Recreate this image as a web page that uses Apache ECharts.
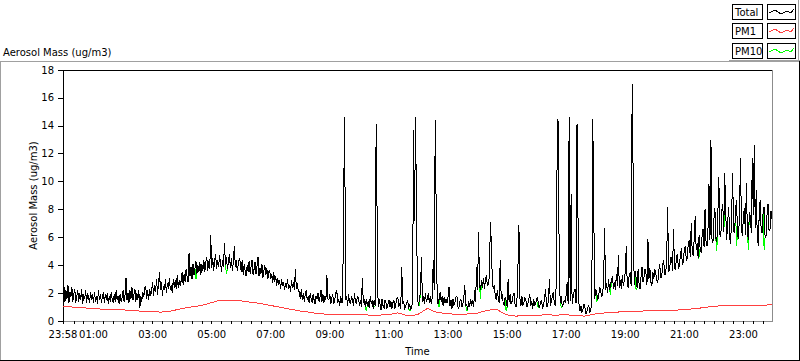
<!DOCTYPE html>
<html><head><meta charset="utf-8">
<script src="https://cdn.jsdelivr.net/npm/echarts@6/dist/echarts.min.js"></script>
<style>html,body{margin:0;padding:0;background:#fff}#c{width:800px;height:361px}#c svg path{shape-rendering:crispEdges}</style>
</head><body><div id="c"></div>
<script>
// ---------- data ----------
const chartTitle = 'Aerosol Mass (ug/m3)';
const yAxisName = 'Aerosol Mass (ug/m3)';
const xAxisName = 'Time';
const seriesNames = ['Total', 'PM1', 'PM10'];
const xTickLabels = ['23:58','01:00','03:00','05:00','07:00','09:00','11:00','13:00','15:00','17:00','19:00','21:00','23:00','23:58'];
const yMin = 0, yMax = 18, yStep = 2;
const startMin = -2;        // 23:58 of the previous day, minutes from midnight
const endMin = 1438;        // 23:58
const totalStepMin = 2;     // sampling of Total / PM10 (one row = one hour)
const pm1StepMin = 20;      // sampling of PM1

const total = [
2.0,2.5,1.4,2.2,1.6,2.6,1.3,2.1,1.7,2.4,1.4,1.9,2.3,1.3,1.8,2.2,1.4,2.0,1.5,2.3,1.2,1.9,1.6,2.2,1.3,2.0,1.7,1.3,2.1,1.5,
1.9,1.3,2.1,1.4,1.8,1.2,2.2,1.5,1.9,1.3,1.7,2.1,1.3,1.9,1.5,2.0,1.2,1.8,1.4,2.1,1.5,1.3,1.9,1.4,2.2,1.5,1.8,1.2,1.9,1.4,
1.7,2.2,1.4,1.9,3.1,1.5,2.0,1.3,2.2,1.6,2.4,1.5,1.9,2.3,1.4,2.0,1.5,2.2,0.9,1.8,1.4,2.1,1.7,2.4,2.5,1.6,2.2,1.5,2.3,1.8,
2.2,2.8,1.8,2.6,2.1,3.0,1.9,2.7,3.5,2.2,2.8,1.8,2.5,2.2,3.0,2.0,2.7,2.3,3.1,2.2,2.6,2.0,3.0,2.4,2.9,2.3,3.3,2.4,2.9,2.5,
2.9,3.5,2.6,3.4,2.8,3.7,3.2,2.8,4.9,3.2,3.9,3.0,4.1,3.3,3.8,4.3,3.4,4.0,3.5,4.2,3.3,4.1,3.6,4.4,3.5,4.2,4.6,3.6,4.3,3.7,
6.2,3.8,4.5,3.6,4.3,4.8,3.7,4.4,3.9,4.7,4.2,3.5,4.4,3.9,5.6,4.0,4.6,3.7,4.3,4.8,3.8,4.5,3.6,4.2,5.4,3.9,4.4,3.6,4.1,4.5,
4.2,3.5,4.4,3.3,4.1,3.6,3.2,4.0,3.5,4.3,3.4,3.9,4.4,3.3,3.7,4.2,3.4,3.9,4.6,3.2,3.8,3.4,4.1,3.1,3.6,4.0,3.3,3.8,3.0,3.6,
3.6,3.0,3.4,2.7,3.5,2.8,3.2,2.5,3.1,2.6,2.9,2.3,3.0,2.5,2.8,2.2,2.7,2.4,3.0,2.3,2.6,2.1,2.9,2.4,2.8,2.2,3.7,2.3,2.7,2.1,
2.1,1.6,2.3,1.5,2.0,1.4,1.9,2.2,1.5,1.8,1.3,2.0,1.6,1.3,1.9,1.5,1.2,1.8,1.6,2.0,1.4,1.7,2.2,1.4,1.9,1.3,1.8,1.5,3.3,1.6,
1.5,1.9,1.2,1.7,1.9,1.2,1.5,2.0,2.2,1.3,1.6,1.1,1.8,1.3,1.4,8.7,14.6,1.5,1.8,1.1,1.9,1.4,1.2,1.8,1.5,1.1,2.0,1.4,1.2,1.8,
1.7,1.1,1.5,1.0,3.1,1.3,1.6,1.0,1.6,1.1,1.4,0.9,1.8,1.2,1.5,0.9,1.5,1.1,14.1,7.4,1.0,1.6,1.2,0.8,1.6,1.1,0.9,1.5,1.3,0.9,
1.2,1.5,1.0,1.4,0.9,1.3,1.5,0.9,1.2,1.6,1.7,1.0,1.3,0.9,3.9,1.2,1.4,0.8,1.1,1.3,1.5,0.9,1.2,0.8,1.0,1.4,13.7,7.2,14.6,7.8,
1.6,1.1,1.6,2.1,4.6,1.4,1.8,1.2,2.0,1.4,1.6,2.0,1.3,1.8,1.2,1.7,4.4,2.2,14.4,7.8,1.5,1.2,1.6,2.1,1.4,1.8,1.1,1.7,1.3,1.6,
1.3,1.7,2.4,1.1,1.5,0.9,1.6,1.1,1.3,1.7,1.8,1.0,0.9,1.4,1.6,1.0,1.2,1.6,2.6,1.1,1.2,0.8,1.4,1.0,1.6,1.1,1.5,1.0,2.2,1.4,
3.9,2.2,6.4,2.5,2.2,2.9,2.4,3.1,2.3,3.0,3.3,2.5,2.7,3.2,7.1,5.6,2.8,2.3,2.6,1.8,1.5,2.2,1.7,1.3,4.4,1.6,1.9,1.3,1.1,1.7,
1.5,1.0,3.0,1.4,1.9,1.2,1.4,1.8,2.0,1.2,1.0,1.5,3.9,6.9,1.6,1.1,1.8,1.1,1.3,1.7,1.5,1.0,1.2,1.6,1.9,1.1,1.4,0.9,1.6,1.1,
1.2,1.6,1.7,1.0,1.0,1.4,1.5,0.9,1.2,1.6,2.3,1.1,1.0,1.5,3.0,1.1,1.4,1.8,2.1,1.2,1.1,2.9,14.5,14.3,3.0,1.3,1.8,1.0,1.2,1.5,
1.3,1.9,2.8,1.2,14.6,1.4,9.1,1.2,1.7,2.1,2.3,1.3,14.1,7.4,1.2,0.7,1.1,0.6,0.8,1.2,1.0,0.5,0.7,1.0,1.1,0.6,0.8,1.3,14.5,7.9,
1.6,2.3,2.0,1.5,1.8,2.4,2.2,1.7,2.0,2.8,6.7,2.2,2.7,2.0,3.0,2.2,2.5,3.0,3.2,2.3,2.8,2.2,3.4,2.5,4.7,2.4,2.9,2.3,3.3,2.5,
2.9,3.5,5.4,2.6,2.4,3.3,3.5,2.5,17.0,10.4,2.6,3.6,3.1,2.4,3.7,2.7,2.3,3.2,3.9,2.8,3.1,3.7,3.4,2.6,5.9,3.0,3.8,2.8,2.5,3.5,
3.0,3.7,3.4,2.9,2.7,3.6,4.1,3.1,3.2,4.0,4.4,3.3,3.4,4.2,8.2,3.5,3.7,4.5,4.6,3.6,6.6,3.8,3.7,4.6,4.8,3.7,4.0,4.8,5.2,4.0,
4.3,5.2,5.4,4.3,4.5,5.6,5.8,4.6,7.0,4.9,4.7,5.9,7.5,5.1,5.6,4.5,6.2,5.2,4.9,6.1,6.6,5.3,8.0,5.7,5.4,6.6,9.8,5.8,13.0,5.9,
5.6,7.3,8.1,5.9,5.7,7.6,10.3,6.2,6.0,7.9,8.4,6.4,10.6,7.8,5.8,7.1,8.2,6.0,5.5,7.6,10.6,6.4,6.3,8.0,8.7,6.2,5.9,7.7,11.7,6.6,
6.1,7.6,8.1,6.2,9.9,6.4,5.8,7.8,7.5,6.3,11.7,7.6,12.6,6.7,9.4,6.2,5.4,7.6,8.7,6.5,6.3,7.9,8.2,6.0,6.1,7.7,8.4,6.5,6.6,7.9,7.3
];

const pm10 = [
2.0,2.5,1.4,2.2,1.6,2.6,1.3,2.1,1.7,2.4,1.4,1.9,2.3,1.3,1.8,2.2,1.4,2.0,1.5,2.3,1.2,1.9,1.6,2.2,1.3,2.0,1.7,1.3,2.1,1.5,
1.9,1.3,2.1,1.4,1.8,1.2,2.2,1.5,1.9,1.3,1.7,2.1,1.3,1.9,1.5,2.0,1.2,1.8,1.4,2.1,1.5,1.3,1.9,1.4,2.2,1.5,1.8,1.2,1.9,1.4,
1.7,2.2,1.4,1.9,3.1,1.5,2.0,1.3,2.2,1.6,2.4,1.5,1.9,2.3,1.4,2.0,1.5,2.2,0.9,1.8,1.4,2.1,1.7,2.4,2.5,1.6,2.2,1.5,2.3,1.8,
2.2,2.8,1.8,2.6,2.1,3.0,1.9,2.7,3.5,2.2,2.8,1.8,2.5,2.2,3.0,2.0,2.7,2.3,3.1,2.2,2.6,2.0,3.0,2.4,2.9,2.3,3.3,2.4,2.9,2.5,
2.9,3.5,2.6,3.4,2.8,3.7,3.2,2.8,4.9,3.2,3.9,3.0,4.1,3.3,3.8,3.0,3.4,4.0,3.5,4.2,3.3,4.1,3.6,4.4,3.5,4.2,4.6,3.6,4.3,3.7,
6.2,3.8,4.5,3.6,4.3,4.8,3.7,4.4,3.9,4.7,4.2,3.5,4.4,3.9,5.6,4.0,3.4,3.7,4.3,4.8,3.8,4.5,3.6,4.2,5.4,3.9,4.4,3.6,4.1,4.5,
4.2,3.5,4.4,3.3,4.1,3.6,3.2,4.0,3.5,4.3,3.4,3.9,4.4,3.3,3.7,4.2,3.4,3.9,4.6,3.2,3.8,3.4,4.1,3.1,3.6,4.0,3.3,3.8,3.0,3.6,
3.6,3.0,3.4,2.7,3.5,2.8,3.2,2.5,3.1,2.6,2.9,2.3,3.0,2.5,2.8,2.2,2.7,2.4,3.0,2.3,2.6,2.1,2.9,2.4,2.8,2.2,3.7,2.3,2.7,2.1,
2.1,1.6,2.3,1.5,2.0,1.4,1.9,2.2,1.5,1.8,1.3,2.0,1.6,1.3,1.9,1.5,1.2,1.8,1.6,2.0,1.4,1.7,2.2,1.4,1.9,1.3,1.8,1.5,3.3,1.6,
1.5,1.9,1.2,1.7,1.9,1.2,1.5,2.0,2.2,1.3,1.6,1.1,1.8,1.3,1.4,8.7,14.6,1.5,1.8,1.1,1.9,1.4,1.2,1.8,1.5,1.1,2.0,1.4,1.2,1.8,
1.7,1.1,1.5,1.0,3.1,1.3,1.6,1.0,0.7,1.1,1.4,0.9,1.8,1.2,1.5,0.9,1.0,1.1,14.1,7.4,1.0,1.6,1.2,0.8,1.6,1.1,0.9,1.5,1.3,0.9,
1.2,1.5,1.0,1.4,0.9,1.3,1.5,0.9,1.2,1.6,1.7,1.0,1.3,0.9,3.9,1.2,1.4,0.8,1.1,1.3,1.5,0.9,0.7,0.8,1.0,1.4,13.7,7.2,14.6,7.8,
1.6,1.1,1.1,2.1,4.6,1.4,1.8,1.2,2.0,1.4,1.6,2.0,1.3,1.8,1.2,1.7,4.4,2.2,14.4,7.8,1.5,1.2,1.0,2.1,1.4,1.8,1.1,1.7,1.3,1.6,
1.3,1.7,2.4,1.1,1.5,0.9,1.6,1.1,1.3,1.7,1.8,1.0,0.9,1.4,1.6,1.0,1.2,1.6,2.6,1.1,0.7,0.8,1.4,1.0,1.6,1.1,1.5,1.0,2.2,1.4,
3.9,2.2,6.4,2.5,1.6,2.9,2.4,3.1,2.3,3.0,3.3,2.5,2.7,3.2,7.1,5.6,2.8,2.3,2.6,1.8,1.5,2.2,1.7,1.3,4.4,1.6,1.9,1.3,1.1,1.7,
0.7,1.0,3.0,1.4,1.9,1.2,1.4,1.8,2.0,1.2,1.0,1.5,3.9,6.9,1.6,1.1,1.8,1.1,1.3,1.7,1.5,1.0,1.2,1.6,1.9,1.1,1.4,0.9,1.6,1.1,
1.2,1.6,1.0,1.0,1.0,1.4,1.5,0.9,1.2,1.6,2.3,1.1,1.0,1.5,3.0,1.1,1.4,1.8,2.1,1.2,1.1,2.9,14.5,14.3,3.0,1.3,1.0,1.0,1.2,1.5,
1.3,1.9,2.8,1.2,14.6,1.4,9.1,1.2,1.7,2.1,2.3,1.3,14.1,7.4,1.2,0.7,1.1,0.6,0.8,1.2,1.0,0.5,0.7,1.0,1.1,0.6,0.8,1.3,14.5,7.9,
1.6,2.3,1.4,1.5,1.8,2.4,2.2,1.7,2.0,2.8,6.7,2.2,2.7,2.0,3.0,2.2,1.9,3.0,3.2,2.3,2.8,2.2,3.4,2.5,4.7,2.4,2.9,2.3,3.3,2.5,
2.9,3.5,5.4,2.6,2.4,3.3,3.5,2.5,17.0,10.4,2.6,3.6,2.2,2.4,3.7,2.7,2.3,3.2,3.9,2.8,3.1,3.7,3.4,2.6,5.9,3.0,3.8,2.8,2.5,3.5,
3.0,3.7,3.4,2.9,2.7,3.6,4.1,3.1,3.2,4.0,4.4,3.3,3.4,4.2,8.2,3.5,3.7,4.5,4.6,3.6,6.6,3.8,3.7,4.6,4.8,3.7,4.0,4.8,5.2,4.0,
4.3,5.2,5.4,4.3,4.5,5.6,5.8,4.6,7.0,4.9,4.7,5.9,7.5,5.1,5.6,4.5,4.6,5.2,4.9,6.1,6.6,5.3,8.0,5.7,5.4,6.6,9.8,5.8,13.0,5.9,
5.6,7.3,8.1,5.9,5.0,7.6,10.3,6.2,6.0,7.9,8.4,6.4,7.5,7.8,5.8,7.1,8.2,6.0,5.5,7.6,10.6,6.4,6.3,8.0,5.4,6.2,5.9,7.7,11.7,6.6,
6.1,7.6,8.1,6.2,9.9,6.4,5.1,7.8,7.5,6.3,11.7,7.6,12.6,6.7,9.4,6.2,5.4,7.6,8.7,6.5,6.3,7.9,5.1,6.0,6.1,7.7,8.4,6.5,6.6,7.9,7.3
];

const pm1 = [
1.05,1.0,0.95,0.9,0.85,0.82,0.8,0.76,0.7,0.66,
0.64,0.72,0.88,1.0,1.1,1.3,1.5,1.5,1.45,1.35,
1.27,1.12,1.0,0.86,0.72,0.63,0.52,0.48,0.48,0.45,
0.44,0.43,0.42,0.45,0.58,0.38,0.45,0.9,0.6,0.55,
0.45,0.5,0.55,0.75,0.85,0.45,0.35,0.4,0.4,0.45,
0.42,0.45,0.4,0.35,0.5,0.58,0.62,0.68,0.68,0.72,
0.72,0.75,0.78,0.8,0.88,0.95,1.05,1.1,1.1,1.12,
1.1,1.12,1.18
];

// ---------- build ----------
const FONT = 'DejaVu Sans';
function toMin(s, idx) {
  const [h, m] = s.split(':').map(Number);
  let v = h * 60 + m;
  if (idx === 0) v -= 1440;
  return v;
}
function fmt(v) {
  const t = ((Math.round(v) % 1440) + 1440) % 1440;
  const h = Math.floor(t / 60), m = t % 60;
  return String(h).padStart(2, '0') + ':' + String(m).padStart(2, '0');
}
const labelVals = xTickLabels.map(toMin);
const tickVals = [startMin];
for (let t = 20; t < endMin; t += 20) tickVals.push(t);
tickVals.push(endMin);

const totalData = total.map((v, i) => [startMin + i * totalStepMin, v]);
const pm10Data = pm10.map((v, i) => [startMin + i * totalStepMin, v]);
const pm1Data = pm1.map((v, i) => [startMin + i * pm1StepMin, v]);

const colors = { Total: '#000000', PM1: '#ff4040', PM10: '#00ff00' };

// legend drawn as LabVIEW-style boxes
const legendEls = [];
seriesNames.forEach((name, j) => {
  const yy = Math.round(4 + j * 19.3);
  legendEls.push({ type: 'rect', shape: { x: 732.5, y: yy + 0.5, width: 30, height: 15 },
    style: { fill: '#fff', stroke: '#000', lineWidth: 1 } });
  legendEls.push({ type: 'text', x: 735, y: yy + 8.5,
    style: { text: name, fill: '#000', font: '10px "' + FONT + '"', verticalAlign: 'middle', align: 'left' } });
  legendEls.push({ type: 'rect', shape: { x: 767.5, y: yy + 0.5, width: 28, height: 15 },
    style: { fill: '#fff', stroke: '#000', lineWidth: 1 } });
  legendEls.push({ type: 'polyline', shape: { points: [[769, yy + 9], [775, yy + 6], [781, yy + 10], [787, yy + 7], [791, yy + 9], [794, yy + 5]] },
    style: { stroke: colors[name], lineWidth: 1, fill: null } });
});
const frameEls = [
  { type: 'line', shape: { x1: 0, y1: 61.5, x2: 800, y2: 61.5 }, style: { stroke: '#a0a0a0', lineWidth: 1 } },
  { type: 'line', shape: { x1: 729, y1: 60.5, x2: 800, y2: 60.5 }, style: { stroke: '#a0a0a0', lineWidth: 1 } },
  { type: 'line', shape: { x1: 0.5, y1: 61.5, x2: 0.5, y2: 361 }, style: { stroke: '#a0a0a0', lineWidth: 1 } },
  { type: 'line', shape: { x1: 0, y1: 360.5, x2: 800, y2: 360.5 }, style: { stroke: '#000', lineWidth: 1 } },
  { type: 'line', shape: { x1: 798.5, y1: 0, x2: 798.5, y2: 61 }, style: { stroke: '#a0a0a0', lineWidth: 1 } },
  { type: 'line', shape: { x1: 799.5, y1: 61, x2: 799.5, y2: 361 }, style: { stroke: '#000', lineWidth: 1 } }
];

const chart = echarts.init(document.getElementById('c'), null, { renderer: 'svg' });
chart.setOption({
  animation: false,
  backgroundColor: '#fff',
  textStyle: { fontFamily: FONT },
  title: { text: chartTitle, left: 3, top: 47, padding: 0,
    textStyle: { fontSize: 10, fontWeight: 'normal', color: '#000', fontFamily: FONT } },
  grid: { left: 63, right: 28, top: 70, bottom: 39, show: true, borderColor: '#8c8c8c', borderWidth: 1, backgroundColor: '#fff' },
  xAxis: [{
    type: 'value', min: startMin, max: endMin, position: 'bottom',
    axisLine: { show: true, onZero: false, lineStyle: { color: '#8c8c8c', width: 1 } },
    axisTick: { show: true, customValues: tickVals, length: 3, lineStyle: { color: '#000' } },
    axisLabel: { customValues: labelVals, formatter: fmt, margin: 8, color: '#000', fontSize: 10, fontFamily: FONT },
    splitLine: { show: false },
    name: xAxisName, nameLocation: 'middle', nameGap: 25, nameMoveOverlap: false,
    nameTextStyle: { color: '#000', fontSize: 10, fontFamily: FONT }
  }, {
    type: 'value', min: startMin, max: endMin, position: 'top',
    axisLine: { show: true, onZero: false, lineStyle: { color: '#000', width: 1 } },
    axisTick: { show: false }, axisLabel: { show: false }, splitLine: { show: false }
  }],
  yAxis: {
    type: 'value', min: yMin, max: yMax, interval: yStep,
    axisLine: { show: true, onZero: false, lineStyle: { color: '#000', width: 1 } },
    axisTick: { show: true, length: 5, lineStyle: { color: '#000' } },
    axisLabel: { margin: 9, color: '#000', fontSize: 10, fontFamily: FONT },
    splitLine: { show: false },
    name: yAxisName, nameLocation: 'middle', nameGap: 25, nameRotate: 90, nameMoveOverlap: false,
    nameTextStyle: { color: '#000', fontSize: 10, fontFamily: FONT }
  },
  series: [
    { name: 'PM1', type: 'line', data: pm1Data, showSymbol: false, symbol: 'none', z: 2,
      lineStyle: { color: colors.PM1, width: 1 }, itemStyle: { color: colors.PM1 } },
    { name: 'PM10', type: 'line', data: pm10Data, showSymbol: false, symbol: 'none', z: 3,
      lineStyle: { color: colors.PM10, width: 1 }, itemStyle: { color: colors.PM10 } },
    { name: 'Total', type: 'line', data: totalData, showSymbol: false, symbol: 'none', z: 4,
      lineStyle: { color: colors.Total, width: 1 }, itemStyle: { color: colors.Total } }
  ],
  graphic: { elements: frameEls.concat(legendEls) }
});
</script>
</body></html>
